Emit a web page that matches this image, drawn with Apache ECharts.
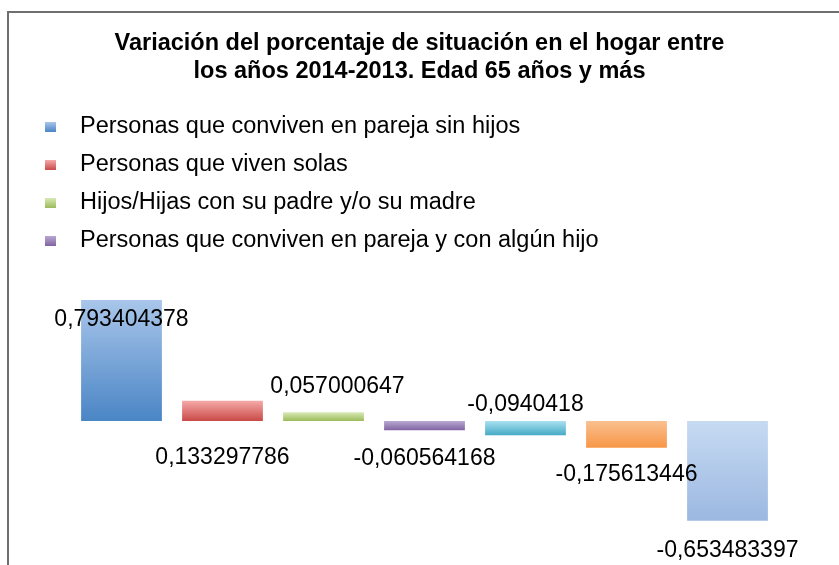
<!DOCTYPE html>
<html>
<head>
<meta charset="utf-8">
<script src="https://cdn.jsdelivr.net/npm/echarts@6/dist/echarts.min.js"></script>
<style>
  html, body { margin: 0; padding: 0; background: #fff; }
  #main { width: 839px; height: 565px; }
</style>
</head>
<body>
<div id="main"></div>
<script>
// categorías (sólo las 4 primeras aparecen en la leyenda)
const categories = [
  'Personas que conviven en pareja sin hijos',
  'Personas que viven solas',
  'Hijos/Hijas con su padre y/o su madre',
  'Personas que conviven en pareja y con algún hijo',
  'Padre o madre solo/a que convive con algún hijo',
  'Personas que no forman núcleo familiar con otras',
  'Otra situación'
]
const values = [0.793404378, 0.133297786, 0.057000647, -0.060564168, -0.0940418, -0.175613446, -0.653483397]
const legendNames = categories.slice(0, 4)

// colores de degradado (arriba, abajo) por barra
const gradTop = ['#a9c6ea', '#f5aaa9', '#d8e9b6', '#b9a8d1', '#a9e0f1', '#fac090', '#c6daf2']
const gradBottom = ['#4a85c5', '#c94a47', '#9bbb59', '#8064a2', '#44a9c4', '#f79646', '#9cb8e1']

// colocación de las etiquetas, como en el original
const labelPlace = [
  { position: 'insideTop', offset: [0, 3] },
  { position: 'bottom', offset: [0, 20] },
  { position: 'top', offset: [14, -9] },
  { position: 'bottom', offset: [0, 12] },
  { position: 'top', offset: [0, 0] },
  { position: 'bottom', offset: [0, 10] },
  { position: 'bottom', offset: [0, 14] }
]

const fontFamily = '"Liberation Sans", Arial, Helvetica, sans-serif'

const chart = echarts.init(document.getElementById('main'))

// una serie por categoría, apiladas para que cada barra ocupe su hueco entero
const series = categories.map((name, i) => ({
  name: name,
  type: 'bar',
  stack: 'total',
  barCategoryGap: '20%',
  data: values.map((v, j) => (j === i ? v : '-')),
  itemStyle: {
    color: new echarts.graphic.LinearGradient(0, 0, 0, 1, [
      { offset: 0, color: gradTop[i] },
      { offset: 1, color: gradBottom[i] }
    ])
  },
  label: {
    show: true,
    position: labelPlace[i].position,
    offset: labelPlace[i].offset,
    distance: 5,
    color: '#000',
    fontFamily: fontFamily,
    fontSize: 23,
    formatter: p => String(p.value).replace('.', ',')
  },
  emphasis: { disabled: true }
}))

const option = {
  animation: false,
  title: {
    text: 'Variación del porcentaje de situación en el hogar entre\nlos años 2014-2013. Edad 65 años y más',
    left: 'center',
    top: 25,
    textStyle: {
      fontFamily: fontFamily,
      fontSize: 23.5,
      fontWeight: 'bold',
      color: '#000',
      lineHeight: 28
    }
  },
  legend: {
    data: legendNames,
    orient: 'vertical',
    left: 45,
    top: 115,
    padding: 0,
    itemWidth: 11,
    itemHeight: 10,
    itemGap: 14,
    icon: 'rect',
    selectedMode: false,
    textStyle: {
      fontFamily: fontFamily,
      fontSize: 23.5,
      lineHeight: 24,
      color: '#000',
      padding: [0, 0, 0, 19]
    }
  },
  grid: { left: 71, right: 61, top: 299, bottom: 22 },
  xAxis: {
    type: 'category',
    data: categories,
    show: false
  },
  yAxis: {
    type: 'value',
    min: -0.8,
    max: 0.8,
    show: false,
    splitLine: { show: false }
  },
  graphic: [{
    type: 'rect',
    shape: { x: 8, y: 12, width: 1000, height: 1000 },
    style: { fill: 'none', stroke: '#6f6f6f', lineWidth: 2 },
    silent: true
  }],
  series: series
}

option && chart.setOption(option)
</script>
</body>
</html>
